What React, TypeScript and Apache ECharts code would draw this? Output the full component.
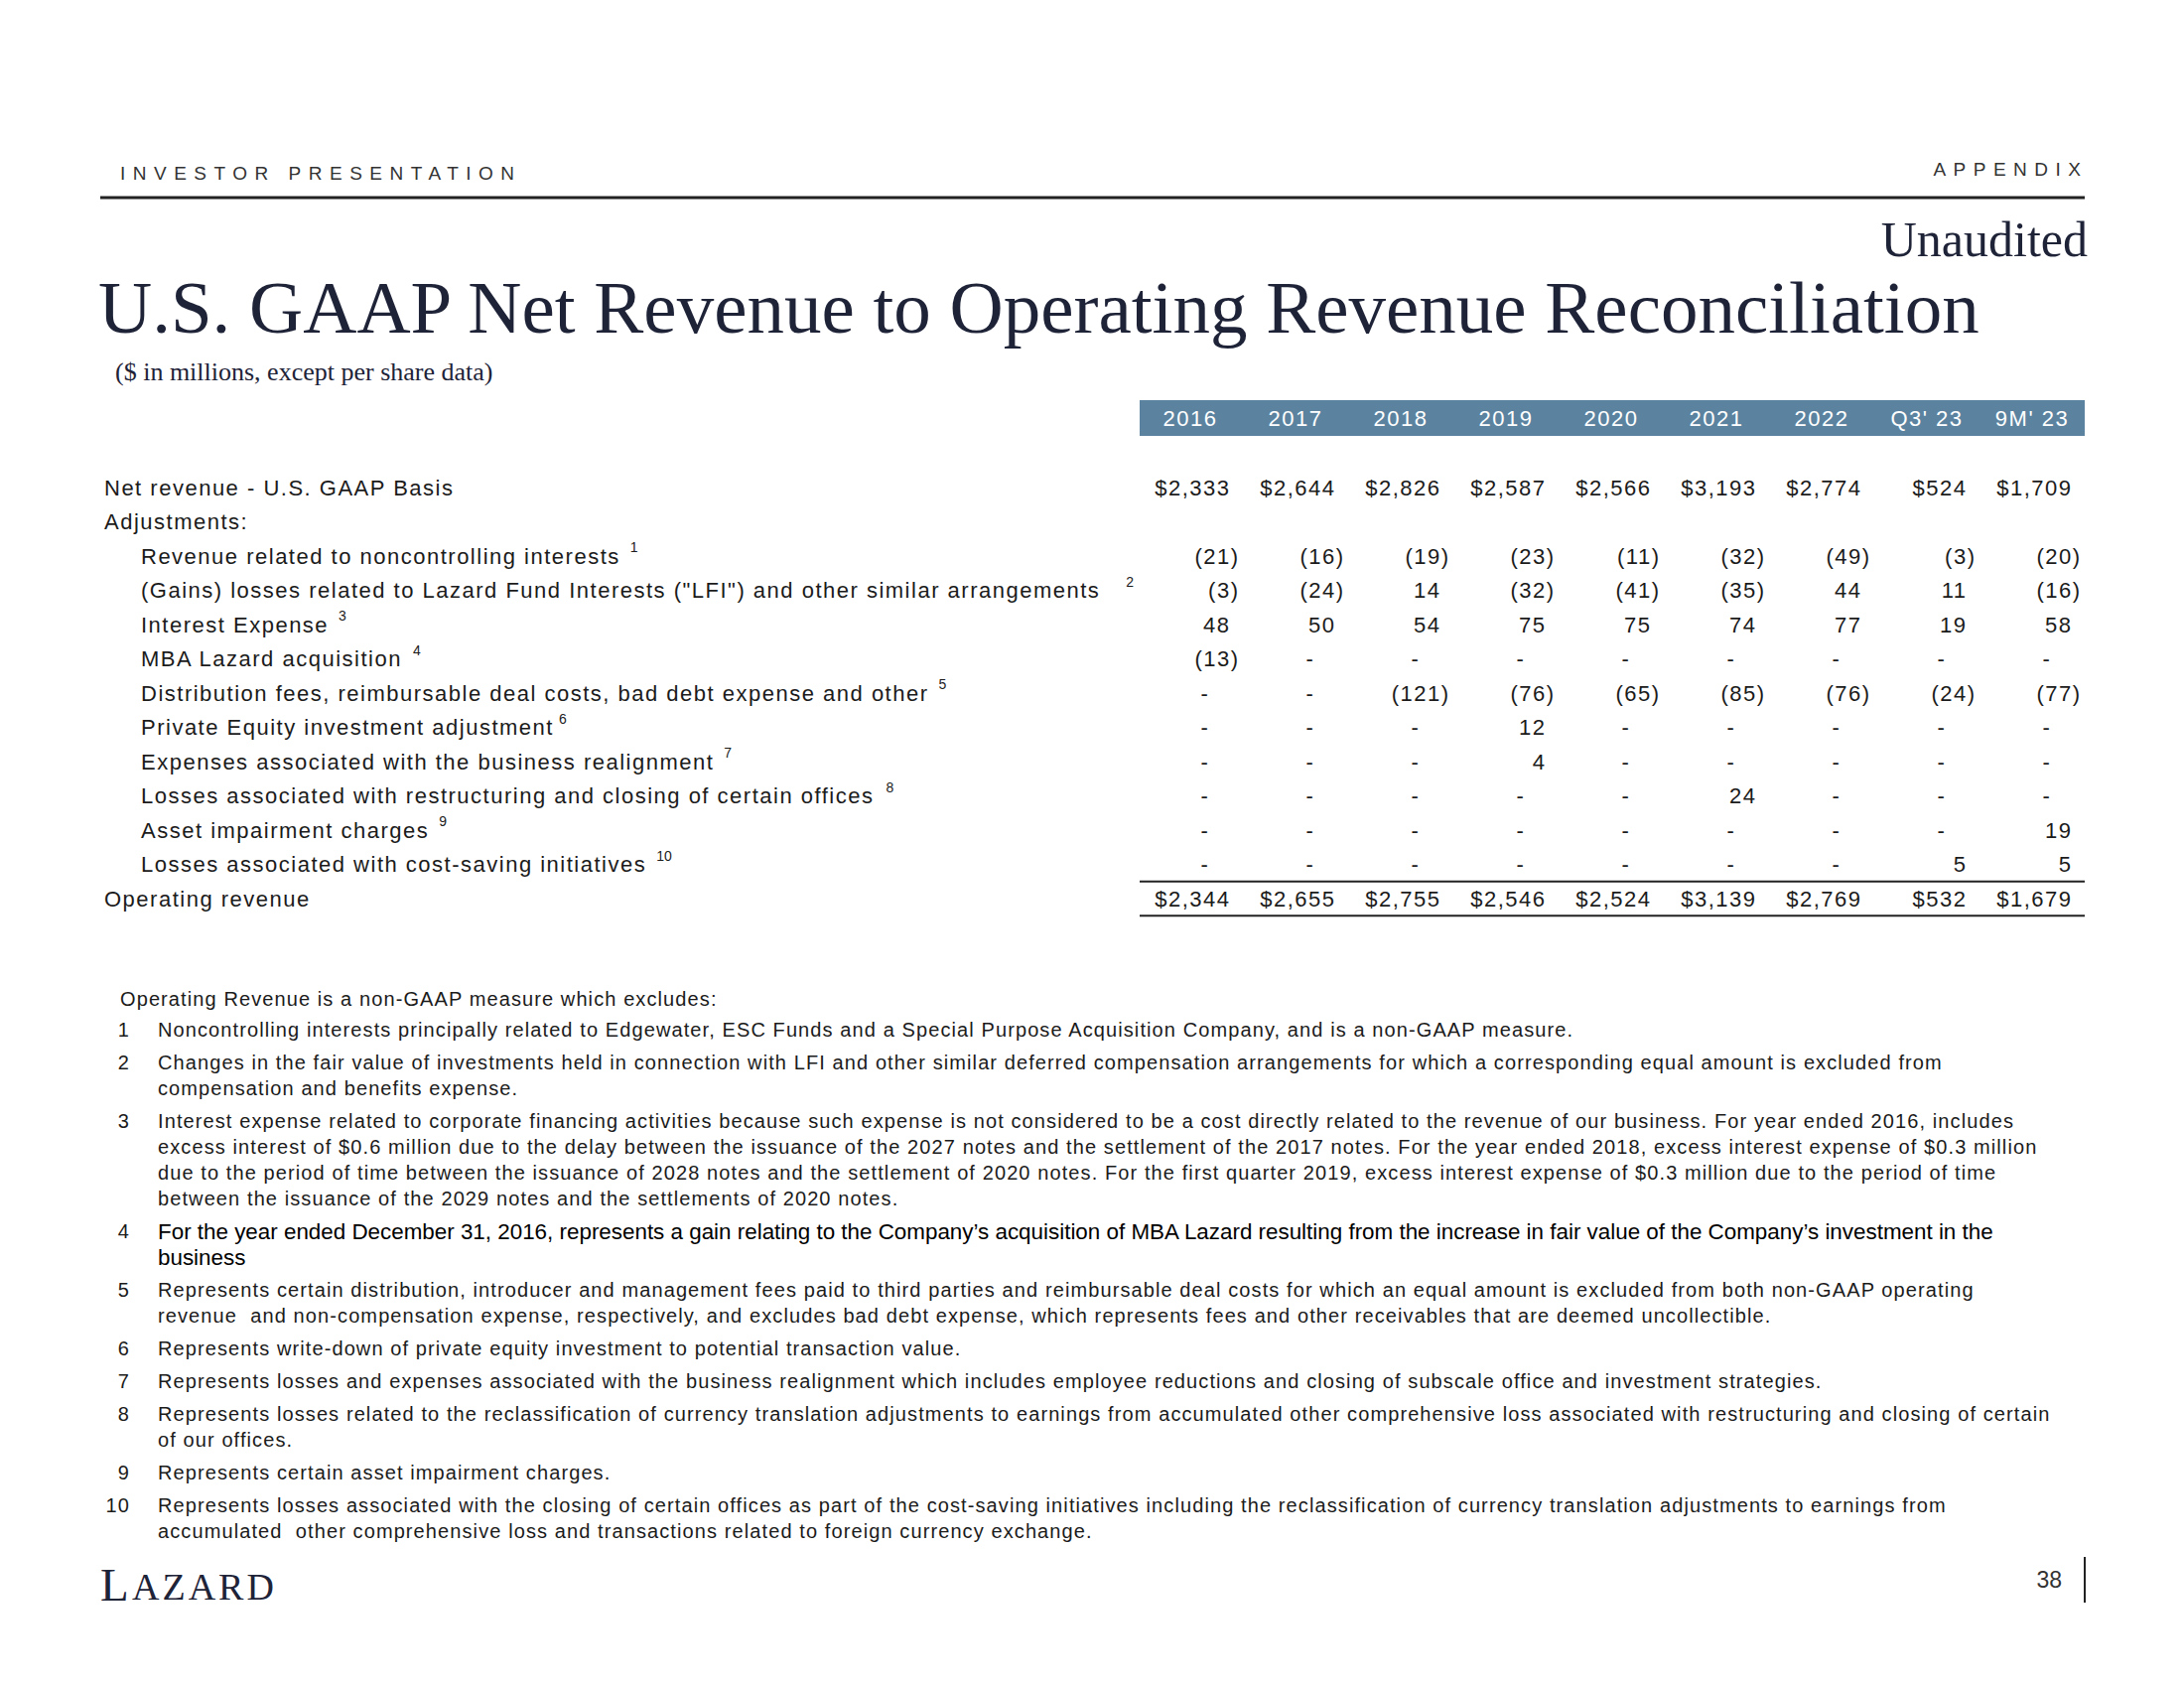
import React, { useEffect, useRef } from "react";
import * as echarts from "echarts";

// ---------------- DATA ----------------
const columns = ["2016", "2017", "2018", "2019", "2020", "2021", "2022", "Q3' 23", "9M' 23"];

const rowLabels = [
  "Net revenue - U.S. GAAP Basis",
  "Adjustments:",
  "Revenue related to noncontrolling interests",
  "(Gains) losses related to Lazard Fund Interests (\"LFI\") and other similar arrangements",
  "Interest Expense",
  "MBA Lazard acquisition",
  "Distribution fees, reimbursable deal costs, bad debt expense and other",
  "Private Equity investment adjustment",
  "Expenses associated with the business realignment",
  "Losses associated with restructuring and closing of certain offices",
  "Asset impairment charges",
  "Losses associated with cost-saving initiatives",
  "Operating revenue",
];
const rowNotes = [null, null, "1", "2", "3", "4", "5", "6", "7", "8", "9", "10", null];
const rowLevel = [0, 0, 1, 1, 1, 1, 1, 1, 1, 1, 1, 1, 0];

const netRevenue = [2333, 2644, 2826, 2587, 2566, 3193, 2774, 524, 1709];
const nciRevenue = [-21, -16, -19, -23, -11, -32, -49, -3, -20];
const lfiGainsLosses = [-3, -24, 14, -32, -41, -35, 44, 11, -16];
const interestExpense = [48, 50, 54, 75, 75, 74, 77, 19, 58];
const mbaAcquisition = [-13, null, null, null, null, null, null, null, null];
const distributionFees = [null, null, -121, -76, -65, -85, -76, -24, -77];
const peAdjustment = [null, null, null, 12, null, null, null, null, null];
const realignment = [null, null, null, 4, null, null, null, null, null];
const restructuring = [null, null, null, null, null, 24, null, null, null];
const assetImpairment = [null, null, null, null, null, null, null, null, 19];
const costSaving = [null, null, null, null, null, null, null, 5, 5];
const operatingRevenue = [2344, 2655, 2755, 2546, 2524, 3139, 2769, 532, 1679];

const rowValues: (Array<number | null> | null)[] = [
  netRevenue, null, nciRevenue, lfiGainsLosses, interestExpense, mbaAcquisition,
  distributionFees, peAdjustment, realignment, restructuring, assetImpairment, costSaving,
  operatingRevenue,
];
const dollarRows = [0, 12];

const noteIntro = "Operating Revenue is a non-GAAP measure which excludes:";
const noteNumbers = ["1", "2", "3", "4", "5", "6", "7", "8", "9", "10"];
const noteLines = [
  ["Noncontrolling interests principally related to Edgewater, ESC Funds and a Special Purpose Acquisition Company, and is a non-GAAP measure."],
  ["Changes in the fair value of investments held in connection with LFI and other similar deferred compensation arrangements for which a corresponding equal amount is excluded from",
    "compensation and benefits expense."],
  ["Interest expense related to corporate financing activities because such expense is not considered to be a cost directly related to the revenue of our business. For year ended 2016, includes",
    "excess interest of $0.6 million due to the delay between the issuance of the 2027 notes and the settlement of the 2017 notes. For the year ended 2018, excess interest expense of $0.3 million",
    "due to the period of time between the issuance of 2028 notes and the settlement of 2020 notes. For the first quarter 2019, excess interest expense of $0.3 million due to the period of time",
    "between the issuance of the 2029 notes and the settlements of 2020 notes."],
  ["For the year ended December 31, 2016, represents a gain relating to the Company\u2019s acquisition of MBA Lazard resulting from the increase in fair value of the Company\u2019s investment in the",
    "business"],
  ["Represents certain distribution, introducer and management fees paid to third parties and reimbursable deal costs for which an equal amount is excluded from both non-GAAP operating",
    "revenue  and non-compensation expense, respectively, and excludes bad debt expense, which represents fees and other receivables that are deemed uncollectible."],
  ["Represents write-down of private equity investment to potential transaction value."],
  ["Represents losses and expenses associated with the business realignment which includes employee reductions and closing of subscale office and investment strategies."],
  ["Represents losses related to the reclassification of currency translation adjustments to earnings from accumulated other comprehensive loss associated with restructuring and closing of certain",
    "of our offices."],
  ["Represents certain asset impairment charges."],
  ["Represents losses associated with the closing of certain offices as part of the cost-saving initiatives including the reclassification of currency translation adjustments to earnings from",
    "accumulated  other comprehensive loss and transactions related to foreign currency exchange."],
];

// ---------------- STYLE / LAYOUT ----------------
const SANS = "Liberation Sans";
const SP_TABLE = "Liberation Sans, LsTable";
const SP_NOTE = "Liberation Sans, LsNote";
const SP_HEAD = "Liberation Sans, LsHead";
const SERIF = "Liberation Serif";
const SP_LOGO = "Liberation Serif, LsLogo";
const TABLE_LS = 1.5;

const css = `
text[style*="LsTable"], text[font-family*="LsTable"] { letter-spacing: 1.5px; }
text[style*="LsNote"], text[font-family*="LsNote"] { letter-spacing: 1.1px; }
text[style*="LsHead"], text[font-family*="LsHead"] { letter-spacing: 7.5px; }
text[style*="LsLogo"], text[font-family*="LsLogo"] { letter-spacing: 3px; }
`;

const NAVY = "#1e2338";
const TEXT = "#1b1b1b";
const BAR = "#5b83a0";

const GRID_LEFT = 1146;
const GRID_W = 954;
const GRID_TOP = 473.75;
const ROW_H = 34.5;
const LABEL_X = 105;
const INDENT = 37;
const POS_OFF = 39 + TABLE_LS;
const NEG_OFF = 48 + TABLE_LS;
const DASH_OFF = 15;
const SUP_GAP = [0, 0, 10, 26, 10, 10, 10, 5, 10, 12, 10, 10, 0];

function fmt(v: number, dollar: boolean) {
  const abs = Math.abs(v).toLocaleString("en-US");
  const s = (dollar ? "$" : "") + abs;
  return v < 0 ? "(" + s + ")" : s;
}

type Cell = { c: number; r: number; text: string; kind: "pos" | "neg" | "dash" };
const cells: Cell[] = [];
rowValues.forEach((vals, r) => {
  if (!vals) return;
  vals.forEach((v, c) => {
    if (v === null) cells.push({ c, r, text: "-", kind: "dash" });
    else cells.push({ c, r, text: fmt(v, dollarRows.includes(r)), kind: v < 0 ? "neg" : "pos" });
  });
});

const rich: Record<string, any> = {};
rowLabels.forEach((l, i) => {
  rich["m" + i] = {
    fontSize: 22, fontFamily: SP_TABLE, color: TEXT, lineHeight: 32,
    padding: [0, 0, 0, rowLevel[i] ? INDENT : 0], verticalAlign: "middle",
  };
  rich["s" + i] = {
    fontSize: 14, fontFamily: SANS, color: TEXT, lineHeight: 14,
    padding: [0, 0, 0, l.length * TABLE_LS + SUP_GAP[i]], verticalAlign: "top",
  };
});

function txt(x: number, y: number, text: string, o: any = {}) {
  return {
    type: "text", x, y, z: o.z ?? 5,
    style: {
      text,
      fontSize: o.fontSize ?? 20,
      fontFamily: o.fontFamily ?? SP_NOTE,
      fill: o.fill ?? TEXT,
      textAlign: o.align ?? "left",
      textVerticalAlign: o.valign ?? "middle",
      align: o.align ?? "left",
      verticalAlign: o.valign ?? "middle",
    },
  };
}

function buildGraphic() {
  const g: any[] = [];
  // top header
  g.push(txt(121, 174, "INVESTOR PRESENTATION", { fontSize: 19, fontFamily: SP_HEAD, fill: "#333" }));
  g.push(txt(2096 + 7.5, 170, "APPENDIX", { fontSize: 19, fontFamily: SP_HEAD, fill: "#333", align: "right" }));
  g.push({ type: "line", shape: { x1: 101, y1: 199, x2: 2100, y2: 199 }, style: { stroke: "#222", lineWidth: 3 } });
  g.push(txt(2103, 241, "Unaudited", { fontSize: 50, fontFamily: SERIF, fill: NAVY, align: "right" }));
  g.push(txt(99, 309, "U.S. GAAP Net Revenue to Operating Revenue Reconciliation", { fontSize: 75, fontFamily: SERIF, fill: NAVY }));
  g.push(txt(116, 374, "($ in millions, except per share data)", { fontSize: 26, fontFamily: SERIF, fill: NAVY }));
  // table header bar
  g.push({ type: "rect", z: -10, shape: { x: 1148, y: 403, width: 952, height: 36 }, style: { fill: BAR } });
  // total rules
  const yTop = GRID_TOP + 12 * ROW_H;
  const yBot = GRID_TOP + 13 * ROW_H;
  g.push({ type: "line", shape: { x1: 1148, y1: yTop, x2: 2100, y2: yTop }, style: { stroke: "#222", lineWidth: 2 } });
  g.push({ type: "line", shape: { x1: 1148, y1: yBot, x2: 2100, y2: yBot }, style: { stroke: "#222", lineWidth: 2 } });
  // footnotes
  g.push(txt(121, 1006, noteIntro, { fontSize: 20 }));
  let y = 1037;
  noteLines.forEach((lines, i) => {
    g.push(txt(131, y, noteNumbers[i], { fontSize: 20, align: "right" }));
    lines.forEach((line, k) => {
      const plain = i === 3;
      g.push(txt(159, y + k * 26, line, plain ? { fontSize: 22.4, fontFamily: SANS, fill: "#000" } : { fontSize: 20 }));
    });
    y += lines.length * 26 + 7;
  });
  // logo + page number
  g.push(txt(101, 1619, "L", { fontSize: 47, fontFamily: SP_LOGO, fill: NAVY, valign: "bottom" }));
  g.push(txt(133, 1617, "AZARD", { fontSize: 38, fontFamily: SP_LOGO, fill: NAVY, valign: "bottom" }));
  g.push(txt(2077, 1591, "38", { fontSize: 23, fontFamily: SANS, fill: "#333", align: "right" }));
  g.push({ type: "line", shape: { x1: 2100, y1: 1568, x2: 2100, y2: 1614 }, style: { stroke: "#222", lineWidth: 2 } });
  return g;
}

export default function App() {
  const ref = useRef<HTMLDivElement>(null);
  useEffect(() => {
    document.body.style.margin = "0";
    const chart = echarts.init(ref.current!, null, { renderer: "svg" });
    chart.setOption({
      animation: false,
      backgroundColor: "#ffffff",
      grid: { left: GRID_LEFT, top: GRID_TOP, width: GRID_W, height: 13 * ROW_H },
      xAxis: {
        type: "category",
        data: columns,
        position: "top",
        z: 10,
        axisLine: { show: false },
        axisTick: { show: false },
        splitLine: { show: false },
        axisLabel: {
          interval: 0,
          color: "#ffffff",
          fontSize: 22,
          fontFamily: SP_TABLE,
          margin: GRID_TOP - 421,
          verticalAlign: "middle",
        },
      },
      yAxis: {
        type: "category",
        data: rowLabels,
        inverse: true,
        axisLine: { show: false },
        axisTick: { show: false },
        splitLine: { show: false },
        axisLabel: {
          interval: 0,
          align: "left",
          margin: GRID_LEFT - LABEL_X,
          formatter: (value: string, idx: number) =>
            `{m${idx}|${value}}` + (rowNotes[idx] ? `{s${idx}|${rowNotes[idx]}}` : ""),
          rich,
        },
      },
      series: [
        {
          type: "custom",
          coordinateSystem: "cartesian2d",
          data: cells.map((d) => [d.c, d.r]),
          renderItem: (params: any, api: any) => {
            const cell = cells[params.dataIndex];
            const p = api.coord([api.value(0), api.value(1)]);
            const off = cell.kind === "dash" ? DASH_OFF : cell.kind === "neg" ? NEG_OFF : POS_OFF;
            const al = cell.kind === "dash" ? "center" : "right";
            return {
              type: "text",
              x: p[0] + off,
              y: p[1],
              style: {
                text: cell.text,
                fontSize: 22,
                fontFamily: SP_TABLE,
                fill: TEXT,
                textAlign: al,
                textVerticalAlign: "middle",
                align: al,
                verticalAlign: "middle",
              },
            };
          },
        },
      ],
      graphic: buildGraphic(),
    });
    return () => chart.dispose();
  }, []);
  return (
    <>
      <style>{css}</style>
      <div ref={ref} style={{ width: 2200, height: 1700, background: "#fff" }} />
    </>
  );
}
